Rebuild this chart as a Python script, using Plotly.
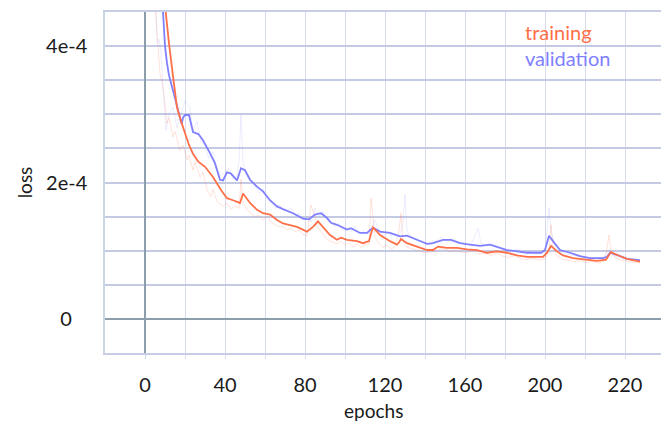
import numpy as np
import plotly.graph_objects as go

# ---- data (loss values in units of 1e-4) ----
train_ep = [4, 6, 8, 10, 11, 12, 14, 16, 18, 20, 22, 24, 26.5, 30, 34, 38, 41, 44, 46, 47.5, 49, 50.5,
            52.5, 56, 59, 62.5, 66, 69, 72.5, 76, 81, 84, 86.5, 88, 90, 92.5, 96, 98, 101, 106, 109,
            112, 113, 114, 116, 117.5, 122.5, 126, 127, 128, 131, 136, 141, 144, 146.5, 151, 156, 161,
            166, 171, 176, 181, 186, 191, 196, 199, 201, 203, 206, 209, 214, 219, 226, 230.5, 233,
            236.7, 241, 247.5]
train_e4 = [7.5, 6.0, 5.1, 4.6, 4.3, 4.04, 3.56, 3.1, 2.9, 2.72, 2.55, 2.42, 2.31, 2.23, 2.08, 1.89, 1.77,
            1.74, 1.72, 1.70, 1.84, 1.78, 1.70, 1.60, 1.55, 1.53, 1.45, 1.40, 1.38, 1.35, 1.28, 1.35,
            1.43, 1.38, 1.31, 1.23, 1.16, 1.19, 1.16, 1.14, 1.11, 1.14, 1.25, 1.34, 1.28, 1.23, 1.14,
            1.09, 1.12, 1.17, 1.11, 1.06, 1.01, 1.01, 1.06, 1.04, 1.04, 1.02, 1.01, 0.97, 0.99, 0.97,
            0.93, 0.91, 0.91, 0.91, 0.97, 1.07, 0.99, 0.93, 0.89, 0.87, 0.85, 0.87, 0.98, 0.93, 0.88,
            0.84]

val_ep = [4, 6, 8, 9, 10, 11, 12, 14, 16, 18.3, 19, 20, 22, 24, 26.7, 29, 32.5, 35, 37.5, 39, 41, 43,
          46, 48, 50, 52.5, 56, 59, 62.5, 66, 69, 74, 79, 82, 85, 88, 91, 93, 96, 101, 103, 107.5,
          111, 114, 117.5, 122.5, 127.5, 131, 136, 141, 144, 147.5, 149, 153, 157.5, 162.5, 167.5,
          172.5, 176, 181, 186, 191, 196, 198, 200, 202, 204, 207.5, 212.5, 217.5, 222.5, 229, 231,
          232.5, 236.7, 241, 247.5]
val_e4 = [6.5, 5.5, 4.8, 4.5, 4.0, 3.75, 3.57, 3.35, 3.11, 2.86, 2.95, 2.99, 2.99, 2.74, 2.71, 2.62,
          2.43, 2.28, 2.04, 2.03, 2.15, 2.13, 2.03, 2.21, 2.18, 2.04, 1.94, 1.87, 1.74, 1.65, 1.61,
          1.55, 1.47, 1.46, 1.53, 1.55, 1.48, 1.41, 1.38, 1.31, 1.33, 1.26, 1.26, 1.34, 1.28, 1.26,
          1.21, 1.22, 1.16, 1.10, 1.11, 1.15, 1.16, 1.16, 1.11, 1.09, 1.07, 1.09, 1.06, 1.01, 0.99,
          0.97, 0.97, 0.97, 1.01, 1.22, 1.14, 1.01, 0.97, 0.92, 0.89, 0.89, 0.91, 0.97, 0.93, 0.88,
          0.86]

train_raw_ep = [3, 5, 7.5, 9, 10, 11, 12, 14, 15, 17.5, 19, 21, 22, 24, 25, 27.5, 29, 31, 33, 34, 36,
                39, 41, 43, 45, 47, 48, 49, 51, 53, 55, 57, 59, 61, 63, 65, 67, 69, 71, 73, 75, 77,
                79, 81, 83, 85, 86, 88, 90, 92, 94, 96, 98, 100, 102, 104, 106, 108, 110, 112, 113,
                114, 115, 117, 119, 121, 123, 125, 127, 128, 129, 131, 134, 137, 140, 143, 146, 149,
                152, 155, 158, 161, 164, 167, 170, 173, 176, 179, 182, 185, 188, 191, 194, 197, 200,
                202, 203, 204, 206, 209, 212, 215, 218, 221, 224, 227, 230, 232, 233, 235, 238, 241,
                244, 247.5]
train_raw_e4 = [7.0, 4.6, 3.6, 3.4, 3.16, 2.87, 2.95, 2.67, 2.75, 2.47, 2.55, 2.33, 2.4, 2.18, 2.3,
                2.08, 2.15, 1.89, 1.79, 1.9, 1.72, 1.65, 1.7, 1.61, 1.66, 1.62, 2.05, 1.7, 1.6, 1.55,
                1.5, 1.52, 1.45, 1.5, 1.42, 1.38, 1.35, 1.36, 1.3, 1.33, 1.28, 1.3, 1.24, 1.22, 1.67,
                1.5, 1.36, 1.28, 1.2, 1.15, 1.12, 1.1, 1.14, 1.08, 1.12, 1.06, 1.1, 1.05, 1.08, 1.1,
                1.77, 1.5, 1.2, 1.1, 1.05, 1.08, 1.02, 1.06, 1.3, 1.55, 1.15, 1.05, 1.02, 0.99, 0.97,
                0.98, 1.0, 1.03, 0.99, 1.01, 0.98, 0.97, 1.0, 0.95, 0.96, 0.93, 0.97, 0.92, 0.9, 0.93,
                0.88, 0.87, 0.89, 0.86, 0.88, 1.0, 1.38, 1.05, 0.92, 0.87, 0.86, 0.84, 0.85, 0.83,
                0.84, 0.82, 0.85, 1.23, 1.0, 0.9, 0.86, 0.84, 0.83, 0.82]

val_raw_ep = [4, 5, 6, 7, 8, 9, 10, 10.5, 11, 12, 14, 16, 18, 20, 22.5, 24, 26, 28, 30, 32, 34, 36, 38,
              40, 42, 44, 46, 47, 48, 49, 51, 53, 55, 57, 59, 61, 63, 65, 67, 69, 71, 73, 75, 77, 79,
              81, 83, 85, 87, 89, 91, 93, 95, 97, 99, 101, 103, 105, 107, 109, 111, 113, 115, 117,
              119, 121, 123, 125, 127, 129, 130, 131, 133, 136, 139, 142, 145, 148, 151, 154, 157,
              160, 163, 166.5, 168, 171, 174, 177, 180, 183, 186, 189, 192, 195, 198, 200, 202, 203,
              205, 208, 211, 214, 217, 220, 223, 226, 229, 232, 235, 238, 241, 244, 247.5]
val_raw_e4 = [6.0, 5.0, 4.04, 4.1, 3.9, 3.4, 2.9, 2.77, 2.85, 3.0, 3.1, 2.8, 3.0, 3.2, 3.1, 2.75, 2.9,
              2.6, 2.55, 2.35, 2.45, 2.2, 2.1, 2.15, 2.2, 2.05, 2.1, 2.3, 2.99, 2.3, 2.1, 2.0, 1.95,
              1.85, 1.9, 1.75, 1.7, 1.62, 1.68, 1.6, 1.58, 1.63, 1.52, 1.55, 1.45, 1.5, 1.42, 1.62,
              1.5, 1.58, 1.45, 1.42, 1.35, 1.4, 1.3, 1.35, 1.28, 1.36, 1.25, 1.3, 1.24, 1.28, 1.45,
              1.3, 1.22, 1.27, 1.22, 1.25, 1.2, 1.4, 1.82, 1.3, 1.2, 1.17, 1.12, 1.08, 1.13, 1.2,
              1.14, 1.18, 1.12, 1.1, 1.08, 1.33, 1.1, 1.07, 1.1, 1.05, 1.03, 1.0, 1.02, 0.97, 0.99,
              0.95, 0.96, 0.98, 1.63, 1.3, 1.05, 0.98, 0.95, 0.93, 0.91, 0.9, 0.88, 0.89, 0.9, 1.0,
              0.92, 0.89, 0.87, 0.88, 0.85]

x_tickvals = [0, 20, 40, 60, 80, 100, 120, 140, 160, 180, 200, 220, 240]
x_ticktext = ["0", "", "40", "", "80", "", "120", "", "160", "", "200", "", "220"]
y_tickvals = [0, 0.5e-4, 1e-4, 1.5e-4, 2e-4, 2.5e-4, 3e-4, 3.5e-4, 4e-4]
y_ticktext = ["0\u00a0\u00a0\u00a0", "", "", "", "2e-4", "", "", "", "4e-4"]

TRAIN_C = "rgb(255,112,72)"
VAL_C = "rgb(128,128,255)"
FONT = "Lato, 'Open Sans', sans-serif"

to_loss = lambda v: np.array(v) * 1e-4

fig = go.Figure()
fig.add_trace(go.Scatter(x=train_raw_ep, y=to_loss(train_raw_e4), mode="lines",
                         line=dict(color="rgba(255,112,72,0.2)", width=1), hoverinfo="skip"))
fig.add_trace(go.Scatter(x=val_raw_ep, y=to_loss(val_raw_e4), mode="lines",
                         line=dict(color="rgba(128,128,255,0.15)", width=1), hoverinfo="skip"))
fig.add_trace(go.Scatter(x=val_ep, y=to_loss(val_e4), mode="lines", name="validation",
                         line=dict(color=VAL_C, width=1.8)))
fig.add_trace(go.Scatter(x=train_ep, y=to_loss(train_e4), mode="lines", name="training",
                         line=dict(color=TRAIN_C, width=1.8)))

# the page body adds an ~8px offset; margins compensate so the plot area lands at x 105-662, y 12-353
fig.update_layout(
    width=669, height=426,
    margin=dict(l=97, r=15, t=4, b=81),
    paper_bgcolor="white", plot_bgcolor="white",
    showlegend=False,
    font=dict(family=FONT, size=20, color="#1a1a1a"),
)
fig.update_xaxes(
    automargin=False,
    range=[-20, 258.5], tickmode="array", tickvals=x_tickvals, ticktext=x_ticktext,
    showgrid=True, gridcolor="rgb(214,218,238)", gridwidth=1,
    zeroline=True, zerolinecolor="rgb(140,158,172)", zerolinewidth=1.5,
    showline=True, linecolor="rgb(200,205,230)", linewidth=1.5, mirror=True,
    ticks="outside", ticklen=4, tickcolor="rgb(214,218,238)",
    ticklabelstandoff=9,
)
fig.update_yaxes(
    automargin=False,
    range=[-0.5e-4, 4.5e-4], tickmode="array", tickvals=y_tickvals, ticktext=y_ticktext,
    showgrid=True, gridcolor="rgb(196,201,228)", gridwidth=1.5,
    zeroline=True, zerolinecolor="rgb(140,158,172)", zerolinewidth=1.5,
    showline=True, linecolor="rgb(200,215,228)", linewidth=1.5, mirror=False,
    ticks="", ticklabelstandoff=12,
    title=dict(text="loss", standoff=8, font=dict(size=19)),
)
# x-axis title placed slightly left of centre, as in the reference
fig.add_annotation(text="epochs", xref="paper", yref="paper", x=(373 - 105) / 557, y=-(410 - 353) / 341,
                   xanchor="center", yanchor="middle", showarrow=False, font=dict(size=19))
fig.add_annotation(text="training", xref="paper", yref="paper", x=(523 - 105) / 557, y=1 - (32 - 12) / 341,
                   xanchor="left", yanchor="middle", showarrow=False, font=dict(color=TRAIN_C, size=20))
fig.add_annotation(text="validation", xref="paper", yref="paper", x=(523 - 105) / 557, y=1 - (58 - 12) / 341,
                   xanchor="left", yanchor="middle", showarrow=False, font=dict(color=VAL_C, size=20))

fig.write_html("out.html")
